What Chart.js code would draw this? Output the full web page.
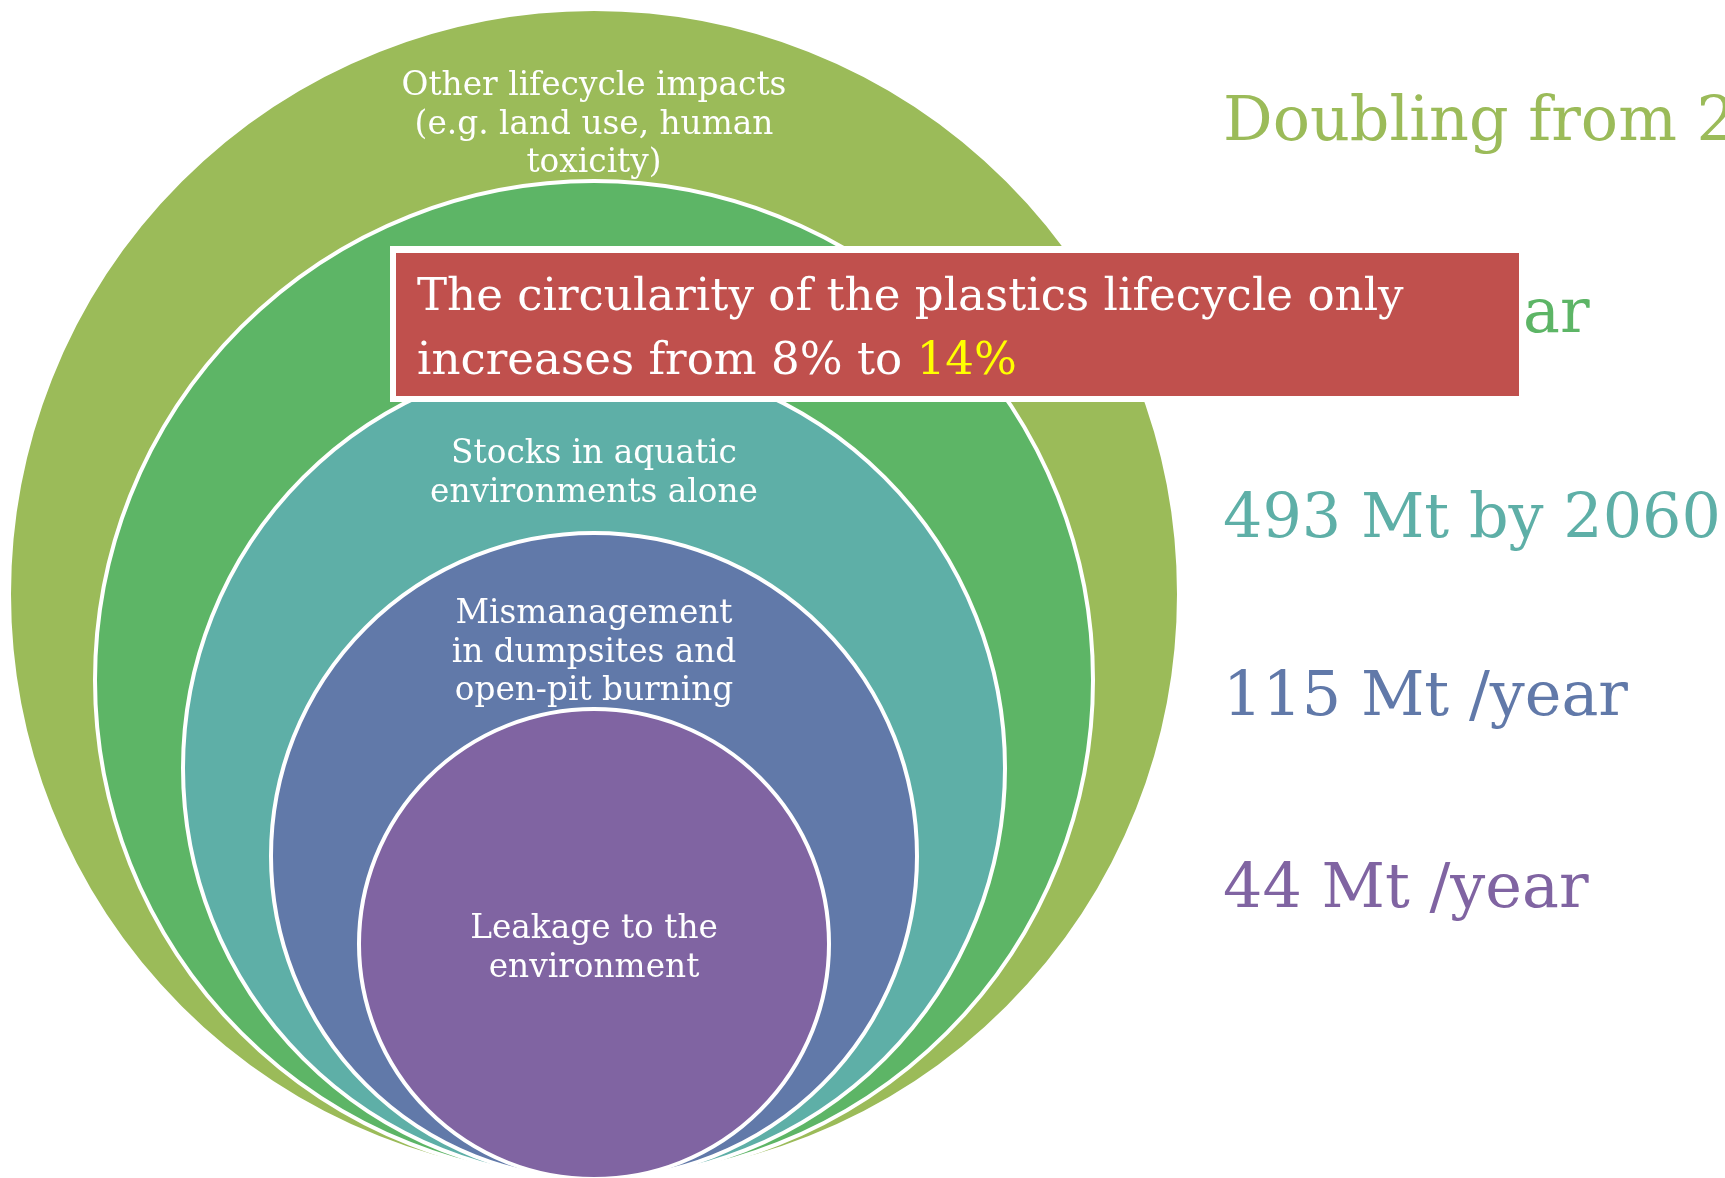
<!DOCTYPE html>
<html>
<head>
<meta charset="utf-8">
<script src="https://cdn.jsdelivr.net/npm/chart.js@4.4.1/dist/chart.umd.min.js"></script>
<style>
  html, body { margin: 0; padding: 0; background: #fff; overflow: hidden; }
  canvas { display: block; }
</style>
</head>
<body>
<canvas id="rings" width="1725" height="1178"></canvas>
<script>
// layers, outermost first
const layerLabels = [
  ['Other lifecycle impacts', '(e.g. land use, human', 'toxicity)'],
  [],
  ['Stocks in aquatic', 'environments alone'],
  ['Mismanagement', 'in dumpsites and', 'open-pit burning'],
  ['Leakage to the', 'environment']
];
const layerFigures = ['Doubling from 2019 to 2060', '1 014 Mt /year', '493 Mt by 2060', '115 Mt /year', '44 Mt /year'];
const layerColors = ['#9BBB59', '#5DB566', '#5EAFA7', '#6179A9', '#8064A2'];
// ring sizes (radius, diagram units), all rings sit on the same base
const ringRadius = [585, 499, 411, 323, 235];
const calloutText = ['The circularity of the plastics lifecycle only', 'increases from 8% to '];
const calloutHighlight = '14%';

const BASE = 1179;
const CX = 594;
const FONT = '"DejaVu Serif", "Liberation Serif", serif';

function fitSize(ctx, text, w) {
  ctx.font = '100px ' + FONT;
  return 100 * w / ctx.measureText(text).width;
}

const textPlugin = {
  id: 'ringText',
  afterDatasetsDraw(chart) {
    const ctx = chart.ctx;
    const sx = chart.scales.x, sy = chart.scales.y;
    const px = v => sx.getPixelForValue(v);
    const py = v => sy.getPixelForValue(v);
    ctx.save();

    // labels inside rings
    const labelSize = fitSize(ctx, layerLabels[0][0], 385);
    const labelY = [95, 0, 463, 623, 938];
    ctx.font = labelSize + 'px ' + FONT;
    ctx.fillStyle = '#fff';
    ctx.textAlign = 'center';
    ctx.textBaseline = 'alphabetic';
    layerLabels.forEach((lines, i) => {
      lines.forEach((t, j) => ctx.fillText(t, px(CX), py(labelY[i] + j * 38.5)));
    });

    // figures on the right
    const figSize = fitSize(ctx, 'Doubling from', 454);
    const figY = [140, 332, 537, 715, 907];
    ctx.font = figSize + 'px ' + FONT;
    layerFigures.forEach((t, i) => {
      ctx.fillStyle = layerColors[i];
      if (i === 1) {
        // mostly hidden by the callout, only the tail shows
        ctx.textAlign = 'right';
        ctx.fillText(t, px(1523) + ctx.measureText('ar').width, py(figY[i]));
      } else {
        ctx.textAlign = 'left';
        ctx.fillText(t, px(1223), py(figY[i]));
      }
    });

    // callout box
    ctx.fillStyle = '#fff';
    ctx.fillRect(px(390), py(246), px(1521) - px(390), py(402) - py(246));
    ctx.fillStyle = '#C0504D';
    ctx.fillRect(px(396), py(253), px(1519) - px(396), py(396) - py(253));

    const boxSize = fitSize(ctx, calloutText[0], 987);
    ctx.font = boxSize + 'px ' + FONT;
    ctx.textAlign = 'left';
    ctx.fillStyle = '#fff';
    ctx.fillText(calloutText[0], px(417), py(310));
    ctx.fillText(calloutText[1], px(417), py(374));
    const w = ctx.measureText(calloutText[1]).width;
    ctx.fillStyle = '#FFFF00';
    ctx.fillText(calloutHighlight, px(417) + w, py(374));

    ctx.restore();
  }
};

new Chart(document.getElementById('rings'), {
  type: 'scatter',
  data: {
    datasets: [{
      data: ringRadius.map(r => ({ x: CX, y: BASE - r })),
      pointBackgroundColor: layerColors,
      pointBorderColor: '#ffffff',
      pointBorderWidth: 4,
      pointRadius: (c) => {
        const ch = c.chart;
        if (!ch.chartArea) return 0;
        const sx = ch.scales.x;
        return sx.getPixelForValue(ringRadius[c.dataIndex]) - sx.getPixelForValue(0);
      },
      pointHoverRadius: 0,
      clip: false
    }]
  },
  options: {
    responsive: false,
    animation: false,
    devicePixelRatio: 1,
    events: [],
    layout: { padding: 0 },
    plugins: { legend: { display: false }, tooltip: { enabled: false } },
    scales: {
      x: { type: 'linear', min: 0, max: 1725, display: false },
      y: { type: 'linear', min: 0, max: 1178, reverse: true, display: false }
    }
  },
  plugins: [textPlugin]
});
</script>
</body>
</html>
